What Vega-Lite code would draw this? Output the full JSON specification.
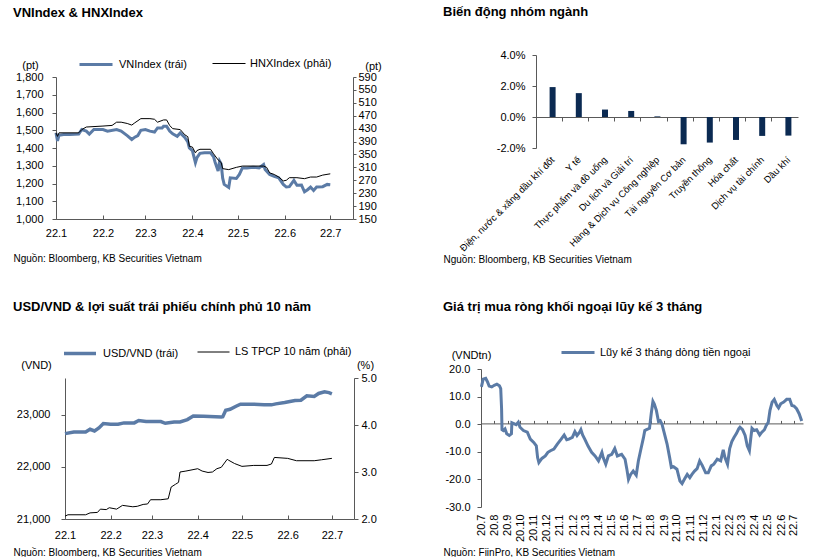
{
  "$schema": "https://vega.github.io/schema/vega-lite/v6.json",
  "padding": {"left": 12, "top": 5, "right": 0, "bottom": 0},
  "background": "white",
  "config": {
    "font": "Liberation Sans",
    "view": {"stroke": null},
    "axis": {"labelFontSize": 11, "labelColor": "#000", "domainColor": "#595959", "tickColor": "#595959", "grid": false, "titleFontWeight": "normal", "titleFontSize": 11, "titleColor": "#000", "labelFlush": false, "labelOverlap": false},
    "title": {"fontSize": 13, "fontWeight": "bold", "anchor": "start", "color": "#000"},
    "legend": {"labelFontSize": 11, "labelColor": "#000"}
  },
  "datasets": {
    "vn": [
      {"date": "2022-01-01", "value": 1485}, {"date": "2022-01-02", "value": 1440}, {"date": "2022-01-03", "value": 1472},
      {"date": "2022-01-06", "value": 1476}, {"date": "2022-01-10", "value": 1476}, {"date": "2022-01-16", "value": 1478},
      {"date": "2022-01-18", "value": 1504}, {"date": "2022-01-21", "value": 1495}, {"date": "2022-01-23", "value": 1478},
      {"date": "2022-01-26", "value": 1504}, {"date": "2022-02-01", "value": 1504}, {"date": "2022-02-04", "value": 1495},
      {"date": "2022-02-10", "value": 1504}, {"date": "2022-02-13", "value": 1495}, {"date": "2022-02-17", "value": 1470},
      {"date": "2022-02-20", "value": 1448}, {"date": "2022-02-22", "value": 1461}, {"date": "2022-02-24", "value": 1470},
      {"date": "2022-02-26", "value": 1500}, {"date": "2022-03-01", "value": 1504}, {"date": "2022-03-04", "value": 1495},
      {"date": "2022-03-07", "value": 1490}, {"date": "2022-03-09", "value": 1513}, {"date": "2022-03-12", "value": 1513},
      {"date": "2022-03-13", "value": 1523}, {"date": "2022-03-15", "value": 1523}, {"date": "2022-03-17", "value": 1495},
      {"date": "2022-03-19", "value": 1480}, {"date": "2022-03-22", "value": 1466}, {"date": "2022-03-24", "value": 1485},
      {"date": "2022-03-27", "value": 1460}, {"date": "2022-03-29", "value": 1435}, {"date": "2022-03-30", "value": 1400},
      {"date": "2022-04-01", "value": 1385}, {"date": "2022-04-03", "value": 1317}, {"date": "2022-04-04", "value": 1345},
      {"date": "2022-04-06", "value": 1370}, {"date": "2022-04-09", "value": 1373}, {"date": "2022-04-13", "value": 1373},
      {"date": "2022-04-15", "value": 1350}, {"date": "2022-04-16", "value": 1320}, {"date": "2022-04-18", "value": 1270},
      {"date": "2022-04-19", "value": 1326}, {"date": "2022-04-20", "value": 1310}, {"date": "2022-04-21", "value": 1230},
      {"date": "2022-04-22", "value": 1195}, {"date": "2022-04-25", "value": 1178}, {"date": "2022-04-26", "value": 1232},
      {"date": "2022-04-30", "value": 1228}, {"date": "2022-05-02", "value": 1251}, {"date": "2022-05-04", "value": 1288},
      {"date": "2022-05-07", "value": 1288}, {"date": "2022-05-11", "value": 1292}, {"date": "2022-05-15", "value": 1288},
      {"date": "2022-05-18", "value": 1307}, {"date": "2022-05-19", "value": 1279}, {"date": "2022-05-22", "value": 1251},
      {"date": "2022-05-25", "value": 1240}, {"date": "2022-05-28", "value": 1232}, {"date": "2022-05-31", "value": 1195},
      {"date": "2022-06-02", "value": 1180}, {"date": "2022-06-04", "value": 1182}, {"date": "2022-06-07", "value": 1217},
      {"date": "2022-06-09", "value": 1190}, {"date": "2022-06-12", "value": 1191}, {"date": "2022-06-14", "value": 1153},
      {"date": "2022-06-16", "value": 1165}, {"date": "2022-06-18", "value": 1180}, {"date": "2022-06-20", "value": 1161},
      {"date": "2022-06-22", "value": 1180}, {"date": "2022-06-26", "value": 1182}, {"date": "2022-06-29", "value": 1195},
      {"date": "2022-07-01", "value": 1193}
    ],
    "hnx": [
      {"date": "2022-01-01", "value": 417}, {"date": "2022-01-02", "value": 406}, {"date": "2022-01-03", "value": 417},
      {"date": "2022-01-16", "value": 417}, {"date": "2022-01-18", "value": 427}, {"date": "2022-01-21", "value": 435},
      {"date": "2022-02-01", "value": 438}, {"date": "2022-02-07", "value": 440}, {"date": "2022-02-10", "value": 450},
      {"date": "2022-02-13", "value": 450}, {"date": "2022-02-17", "value": 446}, {"date": "2022-02-20", "value": 441},
      {"date": "2022-02-22", "value": 448}, {"date": "2022-02-26", "value": 461}, {"date": "2022-03-04", "value": 461},
      {"date": "2022-03-07", "value": 459}, {"date": "2022-03-09", "value": 450}, {"date": "2022-03-13", "value": 457},
      {"date": "2022-03-15", "value": 457}, {"date": "2022-03-17", "value": 440}, {"date": "2022-03-19", "value": 430},
      {"date": "2022-03-24", "value": 427}, {"date": "2022-03-27", "value": 411}, {"date": "2022-03-29", "value": 405},
      {"date": "2022-03-30", "value": 375}, {"date": "2022-04-01", "value": 373}, {"date": "2022-04-03", "value": 355},
      {"date": "2022-04-04", "value": 362}, {"date": "2022-04-06", "value": 366}, {"date": "2022-04-13", "value": 366},
      {"date": "2022-04-15", "value": 352}, {"date": "2022-04-18", "value": 333}, {"date": "2022-04-20", "value": 325},
      {"date": "2022-04-21", "value": 306}, {"date": "2022-04-25", "value": 303}, {"date": "2022-04-30", "value": 310},
      {"date": "2022-05-04", "value": 314}, {"date": "2022-05-18", "value": 314}, {"date": "2022-05-20", "value": 310},
      {"date": "2022-05-22", "value": 293}, {"date": "2022-05-25", "value": 288}, {"date": "2022-05-28", "value": 280},
      {"date": "2022-05-31", "value": 268}, {"date": "2022-06-02", "value": 270}, {"date": "2022-06-04", "value": 278},
      {"date": "2022-06-09", "value": 278}, {"date": "2022-06-14", "value": 275}, {"date": "2022-06-18", "value": 280},
      {"date": "2022-06-22", "value": 280}, {"date": "2022-06-26", "value": 286}, {"date": "2022-07-01", "value": 290}
    ],
    "usd": [
      {"date": "2022-01-01", "value": 22635}, {"date": "2022-01-07", "value": 22667}, {"date": "2022-01-15", "value": 22667},
      {"date": "2022-01-18", "value": 22718}, {"date": "2022-01-21", "value": 22686}, {"date": "2022-01-24", "value": 22744},
      {"date": "2022-01-27", "value": 22827}, {"date": "2022-02-01", "value": 22814}, {"date": "2022-02-06", "value": 22814},
      {"date": "2022-02-10", "value": 22840}, {"date": "2022-02-17", "value": 22840}, {"date": "2022-02-20", "value": 22885},
      {"date": "2022-02-25", "value": 22865}, {"date": "2022-03-07", "value": 22865}, {"date": "2022-03-10", "value": 22833},
      {"date": "2022-03-16", "value": 22859}, {"date": "2022-03-20", "value": 22859}, {"date": "2022-03-25", "value": 22904},
      {"date": "2022-03-29", "value": 22974}, {"date": "2022-04-05", "value": 22968}, {"date": "2022-04-17", "value": 22955},
      {"date": "2022-04-18", "value": 22960}, {"date": "2022-04-20", "value": 23083}, {"date": "2022-04-23", "value": 23100},
      {"date": "2022-04-27", "value": 23160}, {"date": "2022-04-30", "value": 23199}, {"date": "2022-05-09", "value": 23199},
      {"date": "2022-05-16", "value": 23186}, {"date": "2022-05-21", "value": 23186}, {"date": "2022-05-24", "value": 23205},
      {"date": "2022-05-30", "value": 23231}, {"date": "2022-06-06", "value": 23269}, {"date": "2022-06-10", "value": 23275},
      {"date": "2022-06-14", "value": 23359}, {"date": "2022-06-19", "value": 23346}, {"date": "2022-06-22", "value": 23404},
      {"date": "2022-06-26", "value": 23436}, {"date": "2022-06-29", "value": 23420}, {"date": "2022-07-01", "value": 23397}
    ],
    "yield": [
      {"date": "2022-01-01", "value": 2.06}, {"date": "2022-01-03", "value": 2.09}, {"date": "2022-01-15", "value": 2.09},
      {"date": "2022-01-18", "value": 2.13}, {"date": "2022-01-23", "value": 2.14}, {"date": "2022-01-25", "value": 2.21},
      {"date": "2022-01-29", "value": 2.2}, {"date": "2022-01-31", "value": 2.24}, {"date": "2022-02-05", "value": 2.21},
      {"date": "2022-02-09", "value": 2.29}, {"date": "2022-02-16", "value": 2.26}, {"date": "2022-02-19", "value": 2.27},
      {"date": "2022-02-23", "value": 2.31}, {"date": "2022-02-26", "value": 2.32}, {"date": "2022-02-28", "value": 2.41},
      {"date": "2022-03-07", "value": 2.41}, {"date": "2022-03-12", "value": 2.43}, {"date": "2022-03-14", "value": 2.68},
      {"date": "2022-03-17", "value": 2.74}, {"date": "2022-03-19", "value": 2.78}, {"date": "2022-03-20", "value": 3.0},
      {"date": "2022-03-24", "value": 3.02}, {"date": "2022-04-01", "value": 3.07}, {"date": "2022-04-04", "value": 3.02},
      {"date": "2022-04-08", "value": 2.99}, {"date": "2022-04-11", "value": 3.0}, {"date": "2022-04-14", "value": 3.07},
      {"date": "2022-04-17", "value": 3.1}, {"date": "2022-04-21", "value": 3.27}, {"date": "2022-04-22", "value": 3.25},
      {"date": "2022-04-26", "value": 3.18}, {"date": "2022-05-01", "value": 3.12}, {"date": "2022-05-09", "value": 3.14},
      {"date": "2022-05-18", "value": 3.14}, {"date": "2022-05-21", "value": 3.17}, {"date": "2022-05-23", "value": 3.31},
      {"date": "2022-06-01", "value": 3.29}, {"date": "2022-06-07", "value": 3.24}, {"date": "2022-06-19", "value": 3.24},
      {"date": "2022-06-24", "value": 3.26}, {"date": "2022-07-01", "value": 3.29}
    ],
    "sector": [
      {"sector": "Điện, nước & xăng dầu khí đốt", "change": 0.0193},
      {"sector": "Y tế", "change": 0.0154},
      {"sector": "Thực phẩm và đồ uống", "change": 0.0048},
      {"sector": "Du lịch và Giải trí", "change": 0.0039},
      {"sector": "Hàng & Dịch vụ Công nghiệp", "change": 0.0004},
      {"sector": "Tài nguyên Cơ bản", "change": -0.0176},
      {"sector": "Truyền thông", "change": -0.0165},
      {"sector": "Hóa chất", "change": -0.0148},
      {"sector": "Dịch vụ tài chính", "change": -0.0122},
      {"sector": "Dầu khí", "change": -0.012}
    ],
    "foreign": [
      {"date": "2020-07-02", "value": 13.5}, {"date": "2020-07-06", "value": 16.3}, {"date": "2020-07-12", "value": 16.6},
      {"date": "2020-07-16", "value": 15.4}, {"date": "2020-07-20", "value": 13.8}, {"date": "2020-07-26", "value": 13.5},
      {"date": "2020-08-01", "value": 14.1}, {"date": "2020-08-07", "value": 14.5}, {"date": "2020-08-13", "value": 13.9},
      {"date": "2020-08-16", "value": 12.9}, {"date": "2020-08-18", "value": 5.6}, {"date": "2020-08-19", "value": -2.0},
      {"date": "2020-08-22", "value": -2.3}, {"date": "2020-08-26", "value": -1.7}, {"date": "2020-08-30", "value": -3.5},
      {"date": "2020-09-05", "value": -4.1}, {"date": "2020-09-10", "value": -3.5}, {"date": "2020-09-11", "value": 0.5},
      {"date": "2020-09-17", "value": 0.1}, {"date": "2020-09-21", "value": -0.2}, {"date": "2020-09-26", "value": 0.7},
      {"date": "2020-09-30", "value": -1.1}, {"date": "2020-10-08", "value": -2.3}, {"date": "2020-10-17", "value": -2.9},
      {"date": "2020-10-24", "value": -5.4}, {"date": "2020-11-01", "value": -6.6}, {"date": "2020-11-07", "value": -7.8},
      {"date": "2020-11-10", "value": -12.1}, {"date": "2020-11-13", "value": -13.9}, {"date": "2020-11-20", "value": -12.4},
      {"date": "2020-11-28", "value": -11.5}, {"date": "2020-12-04", "value": -10.2}, {"date": "2020-12-10", "value": -9.6},
      {"date": "2020-12-18", "value": -9.0}, {"date": "2020-12-26", "value": -7.2}, {"date": "2021-01-04", "value": -5.4},
      {"date": "2021-01-11", "value": -3.9}, {"date": "2021-01-17", "value": -5.6}, {"date": "2021-01-22", "value": -5.4},
      {"date": "2021-01-30", "value": -4.8}, {"date": "2021-02-05", "value": -2.7}, {"date": "2021-02-10", "value": -4.1},
      {"date": "2021-02-16", "value": -2.9}, {"date": "2021-02-19", "value": -2.0}, {"date": "2021-02-23", "value": -3.9},
      {"date": "2021-02-28", "value": -5.4}, {"date": "2021-03-08", "value": -8.0}, {"date": "2021-03-16", "value": -10.2},
      {"date": "2021-03-24", "value": -11.5}, {"date": "2021-04-01", "value": -13.3}, {"date": "2021-04-09", "value": -10.2},
      {"date": "2021-04-12", "value": -12.1}, {"date": "2021-04-18", "value": -14.5}, {"date": "2021-04-24", "value": -11.5},
      {"date": "2021-05-02", "value": -10.9}, {"date": "2021-05-09", "value": -8.8}, {"date": "2021-05-15", "value": -11.5},
      {"date": "2021-05-25", "value": -10.9}, {"date": "2021-06-02", "value": -12.7}, {"date": "2021-06-06", "value": -16.1},
      {"date": "2021-06-10", "value": -20.0}, {"date": "2021-06-15", "value": -18.2}, {"date": "2021-06-21", "value": -17.0},
      {"date": "2021-06-28", "value": -18.5}, {"date": "2021-07-03", "value": -13.3}, {"date": "2021-07-09", "value": -9.0},
      {"date": "2021-07-15", "value": -4.8}, {"date": "2021-07-18", "value": -2.3}, {"date": "2021-07-22", "value": -2.0},
      {"date": "2021-07-29", "value": -1.5}, {"date": "2021-08-02", "value": 3.8}, {"date": "2021-08-06", "value": 8.3},
      {"date": "2021-08-09", "value": 7.4}, {"date": "2021-08-14", "value": 5.0}, {"date": "2021-08-19", "value": 1.0},
      {"date": "2021-08-23", "value": 1.3}, {"date": "2021-08-27", "value": 0.1}, {"date": "2021-08-31", "value": -2.3},
      {"date": "2021-09-08", "value": -7.2}, {"date": "2021-09-14", "value": -12.1}, {"date": "2021-09-18", "value": -15.7},
      {"date": "2021-09-23", "value": -15.4}, {"date": "2021-10-01", "value": -16.3}, {"date": "2021-10-08", "value": -20.6},
      {"date": "2021-10-13", "value": -21.5}, {"date": "2021-10-19", "value": -19.8}, {"date": "2021-10-25", "value": -18.2},
      {"date": "2021-10-31", "value": -19.4}, {"date": "2021-11-05", "value": -18.2}, {"date": "2021-11-11", "value": -17.0},
      {"date": "2021-11-17", "value": -16.1}, {"date": "2021-11-23", "value": -13.3}, {"date": "2021-11-29", "value": -14.9},
      {"date": "2021-12-07", "value": -17.6}, {"date": "2021-12-13", "value": -17.6}, {"date": "2021-12-20", "value": -15.1},
      {"date": "2021-12-26", "value": -14.5}, {"date": "2022-01-03", "value": -12.7}, {"date": "2022-01-11", "value": -13.3},
      {"date": "2022-01-17", "value": -9.3}, {"date": "2022-01-21", "value": -12.1}, {"date": "2022-01-27", "value": -14.5},
      {"date": "2022-02-01", "value": -8.8}, {"date": "2022-02-06", "value": -6.3}, {"date": "2022-02-11", "value": -4.8},
      {"date": "2022-02-17", "value": -3.3}, {"date": "2022-02-22", "value": -1.7}, {"date": "2022-02-25", "value": -1.1},
      {"date": "2022-03-03", "value": -2.0}, {"date": "2022-03-09", "value": -4.1}, {"date": "2022-03-14", "value": -7.8},
      {"date": "2022-03-19", "value": -9.6}, {"date": "2022-03-22", "value": -5.4}, {"date": "2022-03-25", "value": -1.5},
      {"date": "2022-03-30", "value": -2.3}, {"date": "2022-04-05", "value": -2.0}, {"date": "2022-04-12", "value": -3.9},
      {"date": "2022-04-17", "value": -2.9}, {"date": "2022-04-23", "value": -2.0}, {"date": "2022-04-27", "value": -0.5},
      {"date": "2022-05-02", "value": 0.7}, {"date": "2022-05-06", "value": 5.0}, {"date": "2022-05-11", "value": 8.0},
      {"date": "2022-05-16", "value": 9.0}, {"date": "2022-05-22", "value": 6.8}, {"date": "2022-05-26", "value": 5.9},
      {"date": "2022-05-31", "value": 7.4}, {"date": "2022-06-07", "value": 8.0}, {"date": "2022-06-14", "value": 9.0},
      {"date": "2022-06-21", "value": 9.0}, {"date": "2022-06-26", "value": 6.8}, {"date": "2022-07-01", "value": 6.6},
      {"date": "2022-07-07", "value": 5.6}, {"date": "2022-07-13", "value": 3.8}, {"date": "2022-07-19", "value": 1.2}
    ],
    "none": []
  },
  "columns": 2,
  "align": "none",
  "bounds": "full",
  "spacing": {"row": 35, "column": 0},
  "resolve": {"scale": {"color": "independent"}, "legend": {"color": "independent"}},
  "concat": [
    {"width": 1, "height": 1, "data": {"name": "none"}, "mark": "point"},
    {
      "columns": 2,
      "align": "none",
      "bounds": "full",
      "spacing": {"row": 0, "column": 61},
      "resolve": {"scale": {"color": "independent"}, "legend": {"color": "independent"}},
      "concat": [
        {"width": 1, "height": 1, "data": {"name": "none"}, "mark": "point"},
        {"width": 1, "height": 1, "data": {"name": "none"}, "mark": "point"},
        {
          "width": 297, "height": 142,
          "title": {"text": "VNIndex & HNXIndex", "frame": "group", "dx": -43, "offset": 27},
          "layer": [
            {
              "data": {"name": "vn"},
              "mark": {"type": "line", "strokeWidth": 3},
              "encoding": {
                "x": {"field": "date", "type": "temporal",
                  "scale": {"type": "utc", "nice": false, "domain": [{"year": 2022, "month": 1, "date": 1, "utc": true}, {"year": 2022, "month": 7, "date": 16, "utc": true}]},
                  "axis": {"format": "%y.%-m", "tickCount": {"interval": "month", "step": 1}, "tickSize": -4, "labelPadding": 12,
                    "title": "Nguồn: Bloomberg, KB Securities Vietnam", "titleFontSize": 10, "titleX": -43, "titleY": 39, "titleAlign": "left", "titleAnchor": "start", "titleBaseline": "middle"}},
                "y": {"field": "value", "type": "quantitative", "scale": {"domain": [1000, 1800], "nice": false, "zero": false},
                  "axis": {"values": [1000, 1100, 1200, 1300, 1400, 1500, 1600, 1700, 1800], "format": ",.0f", "tickSize": 4, "labelPadding": 9,
                    "title": "(pt)", "titleAngle": 0, "titleX": -26, "titleY": -12, "titleAlign": "center", "titleBaseline": "middle"}},
                "color": {"datum": "VNIndex (trái)", "type": "nominal",
                  "scale": {"domain": ["VNIndex (trái)"], "range": ["#5b7ba6"]},
                  "legend": {"orient": "none", "legendX": 22, "legendY": -30.5, "title": null, "symbolType": "stroke", "symbolSize": 1089, "symbolStrokeWidth": 3, "labelOffset": 5}}
              }
            },
            {
              "data": {"name": "hnx"},
              "mark": {"type": "line", "strokeWidth": 1},
              "encoding": {
                "x": {"field": "date", "type": "temporal"},
                "y": {"field": "value", "type": "quantitative", "scale": {"domain": [150, 590], "nice": false, "zero": false},
                  "axis": {"orient": "right", "values": [150, 190, 230, 270, 310, 350, 390, 430, 470, 510, 550, 590], "tickSize": 3, "labelPadding": 2,
                    "title": "(pt)", "titleAngle": 0, "titleX": 20, "titleY": -11, "titleAlign": "center", "titleBaseline": "middle"}},
                "color": {"datum": "HNXIndex (phải)", "type": "nominal",
                  "scale": {"domain": ["HNXIndex (phải)"], "range": ["#000000"]},
                  "legend": {"orient": "none", "legendX": 156, "legendY": -30.5, "title": null, "symbolType": "stroke", "symbolSize": 1089, "symbolStrokeWidth": 1, "labelOffset": 4}}
              }
            }
          ],
          "resolve": {"scale": {"y": "independent", "color": "independent"}, "legend": {"color": "independent"}}
        },
        {
          "width": 262, "height": 93,
          "title": {"text": "Biến động nhóm ngành", "frame": "group", "dx": -93, "offset": 30},
          "data": {"name": "sector"},
          "mark": {"type": "bar", "width": 6, "xOffset": 3.5, "color": "#0b2a52"},
          "encoding": {
            "x": {"field": "sector", "type": "nominal", "sort": null, "scale": {"paddingInner": 0, "paddingOuter": 0},
              "axis": {"orient": "bottom", "offset": -31, "bandPosition": 0, "labelAngle": -45, "labelAlign": "right", "labelBaseline": "middle", "labelFontSize": 9.5, "labelPadding": 37, "labelOffset": 4, "tickSize": 4,
                "title": "Nguồn: Bloomberg, KB Securities Vietnam", "titleFontSize": 10, "titleX": -93, "titleY": 142, "titleAlign": "left", "titleAnchor": "start", "titleBaseline": "middle"}},
            "y": {"field": "change", "type": "quantitative", "scale": {"domain": [-0.02, 0.04], "nice": false},
              "axis": {"values": [-0.02, 0, 0.02, 0.04], "format": ".1%", "labelExpr": "replace(datum.label, '−', '-')", "tickSize": 4, "labelPadding": 7, "title": null}}
          }
        }
      ]
    },
    {"width": 1, "height": 1, "data": {"name": "none"}, "mark": "point"},
    {
      "columns": 2,
      "align": "none",
      "bounds": "full",
      "spacing": {"row": 0, "column": 66},
      "resolve": {"scale": {"color": "independent"}, "legend": {"color": "independent"}},
      "concat": [
        {"width": 1, "height": 1, "data": {"name": "none"}, "mark": "point"},
        {"width": 1, "height": 1, "data": {"name": "none"}, "mark": "point"},
        {
          "width": 289, "height": 141,
          "title": {"text": "USD/VND & lợi suất trái phiếu chính phủ 10 năm", "frame": "group", "dx": -52, "offset": 22},
          "layer": [
            {
              "data": {"name": "usd"},
              "mark": {"type": "line", "strokeWidth": 3.5},
              "encoding": {
                "x": {"field": "date", "type": "temporal",
                  "scale": {"type": "utc", "nice": false, "domain": [{"year": 2022, "month": 1, "date": 1, "utc": true}, {"year": 2022, "month": 7, "date": 16, "utc": true}]},
                  "axis": {"format": "%y.%-m", "tickCount": {"interval": "month", "step": 1}, "tickSize": -4, "labelPadding": 14,
                    "title": "Nguồn: Bloomberg, KB Securities Vietnam", "titleFontSize": 10, "titleX": -52, "titleY": 33, "titleAlign": "left", "titleAnchor": "start", "titleBaseline": "middle"}},
                "y": {"field": "value", "type": "quantitative", "scale": {"domain": [21000, 23700], "nice": false, "zero": false},
                  "axis": {"values": [21000, 22000, 23000], "format": ",.0f", "tickSize": 4, "labelPadding": 11,
                    "title": "(VND)", "titleAngle": 0, "titleX": -29, "titleY": -13, "titleAlign": "center", "titleBaseline": "middle"}},
                "color": {"datum": "USD/VND (trái)", "type": "nominal",
                  "scale": {"domain": ["USD/VND (trái)"], "range": ["#5b7ba6"]},
                  "legend": {"orient": "none", "legendX": -3, "legendY": -42.5, "title": null, "symbolType": "stroke", "symbolSize": 1024, "symbolStrokeWidth": 3.5, "labelOffset": 5}}
              }
            },
            {
              "data": {"name": "yield"},
              "mark": {"type": "line", "strokeWidth": 1},
              "encoding": {
                "x": {"field": "date", "type": "temporal"},
                "y": {"field": "value", "type": "quantitative", "scale": {"domain": [2, 5], "nice": false, "zero": false},
                  "axis": {"orient": "right", "values": [2, 3, 4, 5], "format": ".1f", "tickSize": 4, "labelPadding": 3,
                    "title": "(%)", "titleAngle": 0, "titleX": 11, "titleY": -13, "titleAlign": "center", "titleBaseline": "middle"}},
                "color": {"datum": "LS TPCP 10 năm (phải)", "type": "nominal",
                  "scale": {"domain": ["LS TPCP 10 năm (phải)"], "range": ["#000000"]},
                  "legend": {"orient": "none", "legendX": 132, "legendY": -42.5, "title": null, "symbolType": "stroke", "symbolSize": 1024, "symbolStrokeWidth": 1, "labelOffset": 5}}
              }
            }
          ],
          "resolve": {"scale": {"y": "independent", "color": "independent"}, "legend": {"color": "independent"}}
        },
        {
          "width": 322, "height": 138,
          "title": {"text": "Giá trị mua ròng khối ngoại lũy kế 3 tháng", "frame": "group", "dx": -38, "offset": 21},
          "data": {"name": "foreign"},
          "layer": [
            {
              "mark": {"type": "line", "strokeWidth": 3},
              "encoding": {
                "x": {"field": "date", "type": "temporal",
                  "scale": {"type": "utc", "nice": false, "domain": [{"year": 2020, "month": 7, "date": 1, "utc": true}, {"year": 2022, "month": 7, "date": 22, "utc": true}]},
                  "axis": {"orient": "top", "offset": -54.4, "labels": false, "tickSize": 3, "tickCount": {"interval": "month", "step": 1}, "title": null}},
                "y": {"field": "value", "type": "quantitative", "scale": {"domain": [-30, 20], "nice": false, "zero": false},
                  "axis": {"values": [-30, -20, -10, 0, 10, 20], "format": ".1f", "labelExpr": "replace(datum.label, '−', '-')", "labelOverlap": false, "tickSize": 4, "labelPadding": 7,
                    "title": "(VNDtn)", "titleAngle": 0, "titleX": -10, "titleY": -14, "titleAlign": "center", "titleBaseline": "middle"}},
                "color": {"datum": "Lũy kế 3 tháng dòng tiền ngoại", "type": "nominal",
                  "scale": {"domain": ["Lũy kế 3 tháng dòng tiền ngoại"], "range": ["#5b7ba6"]},
                  "legend": {"orient": "none", "legendX": 79, "legendY": -34.5, "title": null, "symbolType": "stroke", "symbolSize": 1089, "symbolStrokeWidth": 3, "labelOffset": 4}}
              }
            },
            {
              "mark": {"type": "line", "opacity": 0},
              "encoding": {
                "x": {"field": "date", "type": "temporal",
                  "axis": {"orient": "bottom", "domain": false, "ticks": false, "format": "%y.%-m", "tickCount": {"interval": "month", "step": 1}, "labelAngle": -90, "labelAlign": "right", "labelBaseline": "middle", "labelPadding": 7,
                    "title": "Nguồn: FiinPro, KB Securities Vietnam", "titleFontSize": 10, "titleX": -38, "titleY": 45, "titleAlign": "left", "titleAnchor": "start", "titleBaseline": "middle"}},
                "y": {"field": "value", "type": "quantitative",
                  "axis": {"values": [-30, -20, -10, 0, 10, 20], "format": ".1f", "labelExpr": "replace(datum.label, '−', '-')", "labelOverlap": false, "tickSize": 4, "labelPadding": 7,
                    "title": "(VNDtn)", "titleAngle": 0, "titleX": -10, "titleY": -14, "titleAlign": "center", "titleBaseline": "middle"}}
              }
            }
          ],
          "resolve": {"axis": {"x": "independent"}}
        }
      ]
    }
  ]
}
